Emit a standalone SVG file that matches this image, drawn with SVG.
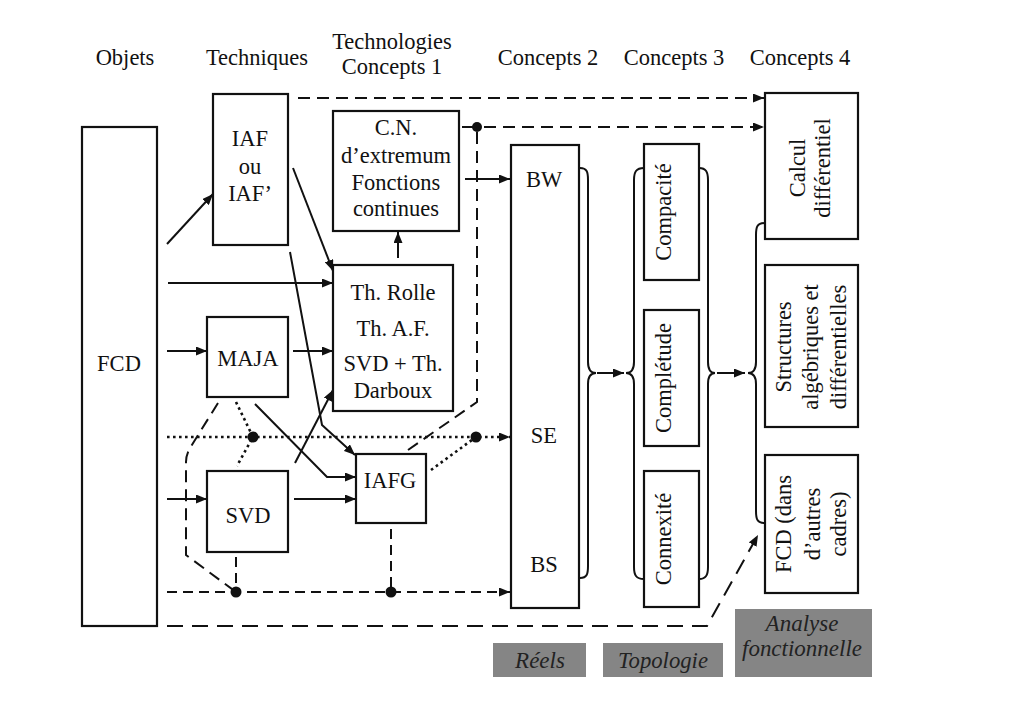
<svg xmlns="http://www.w3.org/2000/svg" width="1024" height="716" viewBox="0 0 1024 716">
<style>
.box{fill:#fff;stroke:#111;stroke-width:2.2}
.t{font-family:"Liberation Serif","DejaVu Serif",serif;font-size:22.5px;fill:#111;text-anchor:middle}
.h{font-family:"Liberation Serif","DejaVu Serif",serif;font-size:22.5px;fill:#111;text-anchor:middle}
.g{fill:#858585}
.gi{font-family:"Liberation Serif","DejaVu Serif",serif;font-style:italic;font-size:23px;fill:#222;text-anchor:middle}
.s{fill:none;stroke:#111;stroke-width:2}
.d{fill:none;stroke:#111;stroke-width:2;stroke-dasharray:12 7}
.dl{fill:none;stroke:#111;stroke-width:2;stroke-dasharray:16 9}
.ds{fill:none;stroke:#111;stroke-width:2;stroke-dasharray:10 6}
.o{fill:none;stroke:#111;stroke-width:2.6;stroke-dasharray:2.6 3.4}
.dot{fill:#111}
</style>
<defs>
<marker id="a" markerUnits="userSpaceOnUse" markerWidth="11" markerHeight="9" refX="11" refY="4.5" orient="auto"><path d="M0,0 L11,4.5 L0,9 z" fill="#111"/></marker>
</defs>
<rect width="1024" height="716" fill="#fff"/>

<g id="headers">
<text class="h" x="125" y="65">Objets</text>
<text class="h" x="257" y="65">Techniques</text>
<text class="h" x="392" y="49">Technologies</text>
<text class="h" x="392" y="74">Concepts 1</text>
<text class="h" x="548" y="65">Concepts 2</text>
<text class="h" x="674" y="65">Concepts 3</text>
<text class="h" x="800" y="65">Concepts 4</text>
</g>

<g id="connectors">
<path class="s" d="M167,244 L213,194" marker-end="url(#a)"/>
<path class="s" d="M168,283 L333,283" marker-end="url(#a)"/>
<path class="s" d="M167,351 L207,351" marker-end="url(#a)"/>
<path class="s" d="M167,499 L207,499" marker-end="url(#a)"/>
<path class="s" d="M293,351 L333,351" marker-end="url(#a)"/>
<path class="s" d="M294,499 L356,499" marker-end="url(#a)"/>
<path class="s" d="M293,168 L333,271" marker-end="url(#a)"/>
<path class="s" d="M290,252 L322,425 L355,455" marker-end="url(#a)"/>
<path class="s" d="M255,404 L327,477 L356,477" marker-end="url(#a)"/>
<path class="s" d="M295,463 L333,390" marker-end="url(#a)"/>
<path class="s" d="M398,258 L398,232" marker-end="url(#a)"/>
<path class="s" d="M465,179 L510,179" marker-end="url(#a)"/>
<path class="d" d="M298,98 L764,98" marker-end="url(#a)"/>
<path class="s" d="M462,127 L477,127"/>
<path class="d" d="M484,127 L764,127" marker-end="url(#a)"/>
<path class="d" d="M408,450 L477,402 L477,127"/>
<circle class="dot" cx="477" cy="127" r="5"/>
<path class="o" d="M167,437 L510,437" marker-end="url(#a)"/>
<circle class="dot" cx="253" cy="437" r="5.5"/>
<circle class="dot" cx="476" cy="437" r="5.5"/>
<path class="o" d="M236,402 L253,437 L237,466"/>
<path class="o" d="M431,470 L476,437"/>
<path class="d" d="M218,403 L190,448 Q186,455 186,462 L186,555 L236,592"/>
<path class="ds" d="M236,557 L236,592"/>
<path class="ds" d="M391,529 L391,592"/>
<path class="ds" d="M167,592 L510,592" marker-end="url(#a)"/>
<circle class="dot" cx="236" cy="592" r="5.5"/>
<circle class="dot" cx="391" cy="592" r="5.5"/>
<path class="dl" d="M167,626 L707,626 L758,535" marker-end="url(#a)"/>
<path class="s" d="M580,168 C587,168 588,172 588,180 L588,362 C588,369 590,373 596,373 C590,373 588,377 588,384 L588,566 C588,574 587,578 580,578"/>
<path class="s" d="M644,168 C636,168 634,172 634,180 L634,362 C634,369 632,373 626,373 C632,373 634,377 634,384 L634,567 C634,575 636,579 644,579"/>
<path class="s" d="M699,168 C706,168 708,172 708,180 L708,362 C708,369 710,373 715,373 C710,373 708,377 708,384 L708,567 C708,575 706,579 699,579"/>
<path class="s" d="M765,223 C757,223 756,227 756,235 L756,362 C756,369 754,373 748,373 C754,373 756,377 756,384 L756,511 C756,519 757,523 765,523"/>
<path class="s" d="M597,373 L624,373" marker-end="url(#a)"/>
<path class="s" d="M717,373 L745,373" marker-end="url(#a)"/>
</g>

<g id="fcd"><rect class="box" x="82" y="127" width="75" height="499"/><text class="t" x="119" y="371">FCD</text></g>
<g id="iaf"><rect class="box" x="213" y="94" width="75" height="151"/>
<text class="t" x="250" y="146">IAF</text><text class="t" x="250" y="174">ou</text><text class="t" x="250" y="201">IAF’</text></g>
<g id="cn"><rect class="box" x="333" y="111" width="126" height="120"/>
<text class="t" x="396" y="135">C.N.</text><text class="t" x="396" y="163">d’extremum</text><text class="t" x="396" y="190">Fonctions</text><text class="t" x="396" y="216">continues</text></g>
<g id="rolle"><rect class="box" x="333" y="265" width="120" height="146"/>
<text class="t" x="393" y="300">Th. Rolle</text><text class="t" x="393" y="336">Th. A.F.</text><text class="t" x="393" y="371">SVD + Th.</text><text class="t" x="393" y="398">Darboux</text></g>
<g id="maja"><rect class="box" x="207" y="317" width="81" height="80"/><text class="t" x="248" y="366">MAJA</text></g>
<g id="svd"><rect class="box" x="207" y="471" width="81" height="81"/><text class="t" x="248" y="523">SVD</text></g>
<g id="iafg"><rect class="box" x="356" y="454" width="70" height="69"/><text class="t" x="390" y="488">IAFG</text></g>
<g id="reels"><rect class="box" x="511" y="145" width="68" height="463"/>
<text class="t" x="544" y="187">BW</text><text class="t" x="544" y="443">SE</text><text class="t" x="544" y="572">BS</text></g>
<g id="compacite"><rect class="box" x="644" y="144" width="55" height="136"/>
<text class="t" transform="translate(671,212) rotate(-90)">Compacité</text></g>
<g id="completude"><rect class="box" x="644" y="310" width="55" height="136"/>
<text class="t" transform="translate(671,378) rotate(-90)">Complétude</text></g>
<g id="connexite"><rect class="box" x="644" y="471" width="55" height="136"/>
<text class="t" transform="translate(671,539) rotate(-90)">Connexité</text></g>
<g id="calcul"><rect class="box" x="765" y="93" width="93" height="146"/>
<text class="t" transform="translate(805,168) rotate(-90)">Calcul</text>
<text class="t" transform="translate(830,168) rotate(-90)">différentiel</text></g>
<g id="structures"><rect class="box" x="765" y="265" width="93" height="162"/>
<text class="t" transform="translate(791,347) rotate(-90)">Structures</text>
<text class="t" transform="translate(818,347) rotate(-90)">algébriques et</text>
<text class="t" transform="translate(846,347) rotate(-90)">différentielles</text></g>
<g id="fcdautres"><rect class="box" x="765" y="455" width="93" height="138"/>
<text class="t" transform="translate(791,524) rotate(-90)">FCD (dans</text>
<text class="t" transform="translate(820,524) rotate(-90)">d’autres</text>
<text class="t" transform="translate(846,524) rotate(-90)">cadres)</text></g>

<g id="lbl-reels"><rect class="g" x="493" y="643" width="93" height="34"/><text class="gi" x="540" y="668">Réels</text></g>
<g id="lbl-topo"><rect class="g" x="603" y="643" width="120" height="34"/><text class="gi" x="663" y="668" textLength="90" lengthAdjust="spacingAndGlyphs">Topologie</text></g>
<g id="lbl-af"><rect class="g" x="735" y="609" width="137" height="68"/><text class="gi" x="802" y="631">Analyse</text><text class="gi" x="802" y="656" textLength="120" lengthAdjust="spacingAndGlyphs">fonctionnelle</text></g>
</svg>
